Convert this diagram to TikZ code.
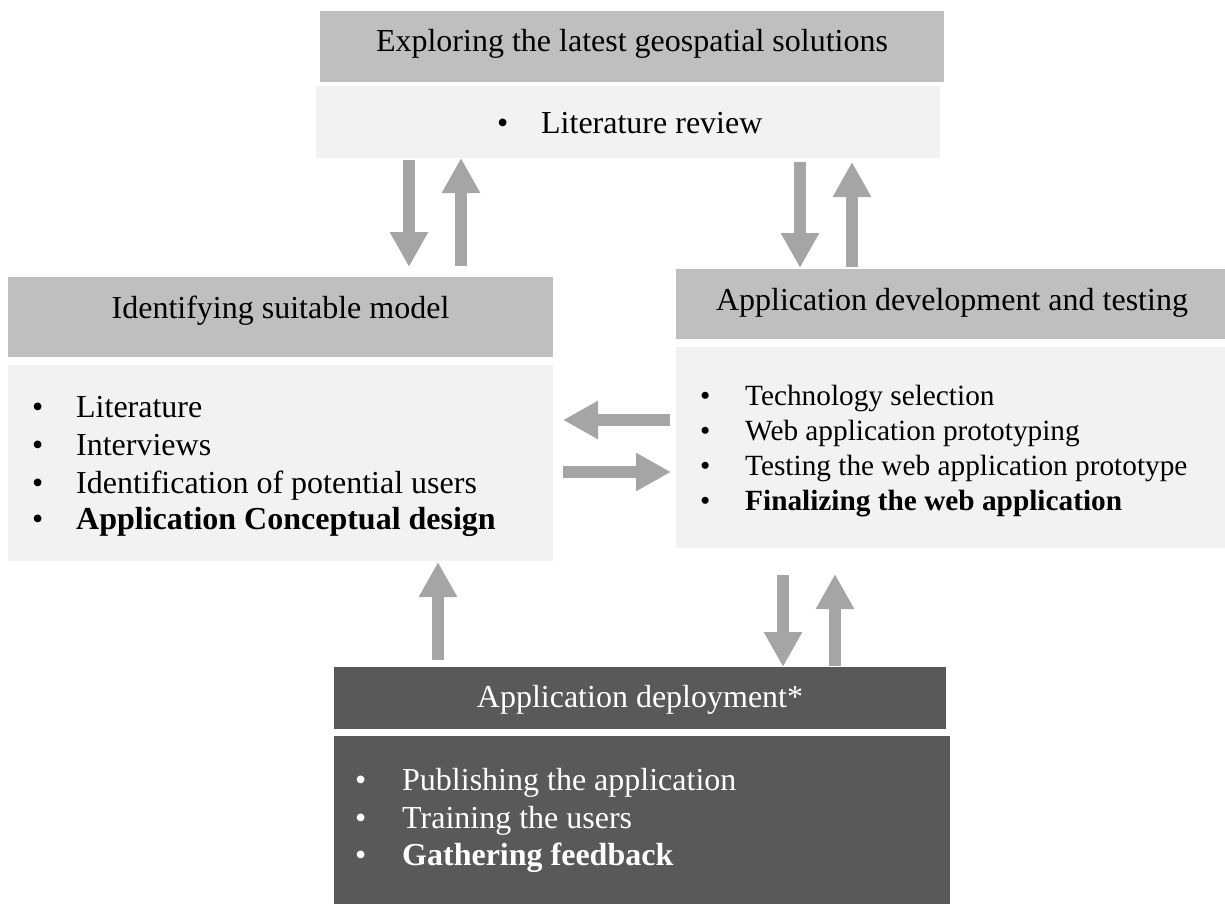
\documentclass[tikz,border=0pt]{standalone}
\usepackage{fontspec}
\setmainfont{Liberation Serif}
\usetikzlibrary{arrows.meta}
\definecolor{hdrgray}{HTML}{BFBFBF}
\definecolor{bodygray}{HTML}{F2F2F2}
\definecolor{arrgray}{HTML}{A5A5A5}
\definecolor{deepgray}{HTML}{595959}
\begin{document}
\begin{tikzpicture}[x=1pt,y=-1pt,
  box/.style={draw=none, inner sep=0pt, outer sep=0pt},
  hdr/.style={box, fill=hdrgray},
  bodybox/.style={box, fill=bodygray},
  darkbox/.style={box, fill=deepgray},
  title/.style={inner sep=0pt, anchor=base, font=\fontsize{32}{38}\selectfont},
  item/.style={inner sep=0pt, anchor=base west, font=\fontsize{32}{38}\selectfont},
  smallitem/.style={inner sep=0pt, anchor=base west, font=\fontsize{29.3}{35}\selectfont},
  blockarrow/.style={draw=arrgray, line width=12pt, -{Triangle[width=36pt,length=35pt]}}
]
\useasboundingbox (0,0) rectangle (1225,907);

% top
\node[hdr, minimum width=624pt, minimum height=71pt] (tophdr) at (632,46.5) {};
\node[bodybox, minimum width=624pt, minimum height=72pt] (topbody) at (628,122) {};
\node[title] (toptitle) at (632,52) {Exploring the latest geospatial solutions};
\node[item] (topi1) at (497,133) {\makebox[44pt][l]{•}Literature review};

% left
\node[hdr, minimum width=545pt, minimum height=80pt] (lefthdr) at (280.5,317) {};
\node[bodybox, minimum width=545pt, minimum height=196pt] (leftbody) at (280.5,463) {};
\node[title] (lefttitle) at (280.5,318) {Identifying suitable model};
\node[item] (lefti1) at (32,417) {\makebox[44pt][l]{•}Literature};
\node[item] (lefti2) at (32,455) {\makebox[44pt][l]{•}Interviews};
\node[item] (lefti3) at (32,493) {\makebox[44pt][l]{•}Identification of potential users};
\node[item] (lefti4) at (32,529) {\makebox[44pt][l]{•}\textbf{Application Conceptual design}};

% right
\node[hdr, minimum width=549pt, minimum height=70pt] (righthdr) at (950.5,304) {};
\node[bodybox, minimum width=549pt, minimum height=201pt] (rightbody) at (950.5,447.5) {};
\node[title] (righttitle) at (952,310) {Application development and testing};
\node[smallitem] (righti1) at (700,405) {\makebox[45pt][l]{•}Technology selection};
\node[smallitem] (righti2) at (700,440) {\makebox[45pt][l]{•}Web application prototyping};
\node[smallitem] (righti3) at (700,475) {\makebox[45pt][l]{•}Testing the web application prototype};
\node[smallitem] (righti4) at (700,510) {\makebox[45pt][l]{•}\textbf{Finalizing the web application}};

% bottom
\node[darkbox, minimum width=612pt, minimum height=62pt] (bothdr) at (640,698) {};
\node[darkbox, minimum width=616pt, minimum height=168pt] (botbody) at (642,820) {};
\node[title, text=white] (bottitle) at (640,707) {Application deployment*};
\node[item, text=white] (boti1) at (355,790) {\makebox[47pt][l]{•}Publishing the application};
\node[item, text=white] (boti2) at (355,828) {\makebox[47pt][l]{•}Training the users};
\node[item, text=white] (boti3) at (355,865) {\makebox[47pt][l]{•}\textbf{Gathering feedback}};

% arrow end points
\coordinate (a1s) at (409,160); \coordinate (a1e) at (409,267);
\coordinate (a2s) at (461,266); \coordinate (a2e) at (461,158);
\coordinate (a3s) at (800,162); \coordinate (a3e) at (800,268);
\coordinate (a4s) at (852,267); \coordinate (a4e) at (852,162);
\coordinate (a5s) at (670,420); \coordinate (a5e) at (563,420);
\coordinate (a6s) at (563,472); \coordinate (a6e) at (671,472);
\coordinate (a7s) at (438,660); \coordinate (a7e) at (438,562);
\coordinate (a8s) at (783,575); \coordinate (a8e) at (783,667);
\coordinate (a9s) at (835,666); \coordinate (a9e) at (835,574);

\draw[blockarrow] (a1s) -- (a1e);
\draw[blockarrow] (a2s) -- (a2e);
\draw[blockarrow] (a3s) -- (a3e);
\draw[blockarrow] (a4s) -- (a4e);
\draw[blockarrow] (a5s) -- (a5e);
\draw[blockarrow] (a6s) -- (a6e);
\draw[blockarrow] (a7s) -- (a7e);
\draw[blockarrow] (a8s) -- (a8e);
\draw[blockarrow] (a9s) -- (a9e);
\end{tikzpicture}
\end{document}
